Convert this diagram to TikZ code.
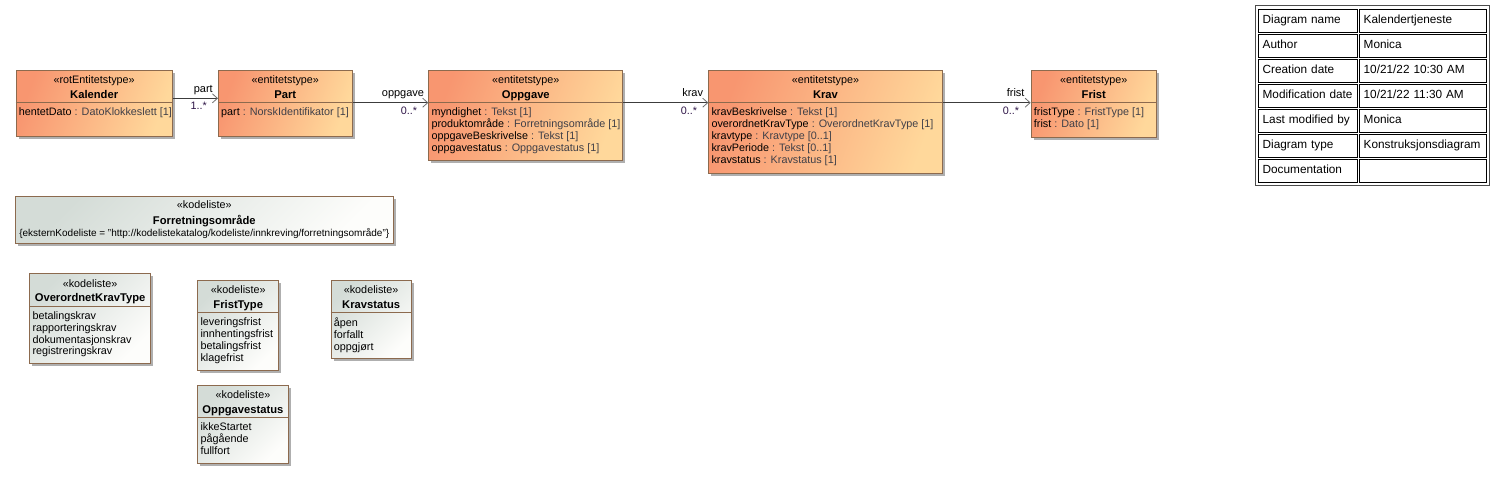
\documentclass[tikz,border=0pt]{standalone}
\usepackage{fontspec}
\setmainfont{Liberation Sans}
\usetikzlibrary{arrows.meta,calc}
\definecolor{brd}{RGB}{140,106,78}
\definecolor{ent1}{RGB}{248,150,112}
\definecolor{ent2}{RGB}{255,216,155}
\definecolor{kod1}{RGB}{212,220,215}
\definecolor{kod2}{RGB}{253,253,251}
\definecolor{typec}{RGB}{64,64,72}
\definecolor{linec}{RGB}{60,60,60}
\definecolor{arrc}{RGB}{110,110,110}
\definecolor{multc}{RGB}{45,20,70}
\definecolor{shad}{RGB}{175,175,175}
\newcommand{\ty}[1]{{\color{typec}#1}}
\newcommand{\tightlines}{\lineskiplimit=-20pt\relax\lineskip=0pt\relax}
\tikzset{
  ent/.style={draw=brd, line width=0.9pt, left color=ent1, right color=ent2, shading angle=70, inner sep=0},
  kod/.style={draw=brd, line width=0.9pt, left color=kod1, right color=kod2, shading angle=45, inner sep=0},
  stereo/.style={font=\fontsize{10.8}{12}\selectfont, inner sep=0, anchor=base},
  title/.style={font=\fontsize{11.2}{12}\selectfont\bfseries, inner sep=0, anchor=base},
  attr/.style={font=\fontsize{10.8}{11.9}\selectfont\tightlines, inner sep=0, anchor=north west, align=left},
  divl/.style={draw=brd, line width=0.9pt},
  conn/.style={draw=linec, line width=0.8pt, -{Straight Barb[length=5pt,width=9pt,line width=0.8pt,color=arrc]}},
  role/.style={font=\fontsize{11}{12}\selectfont, inner sep=0, anchor=base east},
  mult/.style={font=\fontsize{10.8}{12}\selectfont, inner sep=0, anchor=base east, text=multc},
  cell/.style={draw=black, line width=0.7pt, inner xsep=4pt, inner ysep=0, minimum height=22.4pt, align=left, text height=8.6pt, text depth=2.6pt, font=\fontsize{11.8}{14}\selectfont, anchor=north west},
}
% #1 name, #2 style, #3 x, #4 y, #5 w, #6 h, #7 stereotype, #8 title, #9 attributes
\newcommand{\classbox}[9]{%
  \fill[shad] (#3+3,#4+3) rectangle (#3+#5+3,#4+#6+3);
  \node[#2, minimum width=#5pt, minimum height=#6pt, anchor=north west] (#1) at (#3,#4) {};
  \node[stereo] at ([yshift=-13.8pt]#1.north) {«#7»};
  \node[title] at ([yshift=-28pt]#1.north) {#8};
  \draw[divl] ([yshift=-32.7pt]#1.north west) -- ([yshift=-32.7pt]#1.north east);
  \node[attr] at ([xshift=3pt,yshift=-37.4pt]#1.north west) {\strut#9};
}
\begin{document}
\begin{tikzpicture}[x=1pt,y=-1pt]
\useasboundingbox (0,0) rectangle (1506,488);
% entity classes
\classbox{kal}{ent}{15.7}{70}{156}{66}{rotEntitetstype}{Kalender}{hentetDato \ty{: DatoKlokkeslett [1]}}
\classbox{part}{ent}{218}{70}{133.7}{66}{entitetstype}{Part}{part \ty{: NorskIdentifikator [1]}}
\classbox{opp}{ent}{428.3}{70}{194}{90}{entitetstype}{Oppgave}{myndighet \ty{: Tekst [1]}\\produktområde \ty{: Forretningsområde [1]}\\oppgaveBeskrivelse \ty{: Tekst [1]}\\oppgavestatus \ty{: Oppgavestatus [1]}}
\classbox{krav}{ent}{708.3}{70}{233.4}{102.7}{entitetstype}{Krav}{kravBeskrivelse \ty{: Tekst [1]}\\overordnetKravType \ty{: OverordnetKravType [1]}\\kravtype \ty{: Kravtype [0..1]}\\kravPeriode \ty{: Tekst [0..1]}\\kravstatus \ty{: Kravstatus [1]}}
\classbox{frist}{ent}{1030.7}{70}{125.3}{66.7}{entitetstype}{Frist}{fristType \ty{: FristType [1]}\\frist \ty{: Dato [1]}}
% code lists
\fill[shad] (18,199) rectangle (395.7,246.3);
\node[kod, minimum width=377.7pt, minimum height=47.3pt, anchor=north west] (fo) at (15,196) {};
\node[stereo] at ([yshift=-12.8pt]fo.north) {«kodeliste»};
\node[title] at ([yshift=-28pt]fo.north) {Forretningsområde};
\node[stereo, font=\fontsize{10}{12}\selectfont] at ([yshift=-40.5pt]fo.north) {\{eksternKodeliste = "http://kodelistekatalog/kodeliste/innkreving/forretningsområde"\}};
\classbox{okt}{kod}{29.3}{273.3}{120.7}{90}{kodeliste}{OverordnetKravType}{betalingskrav\\rapporteringskrav\\dokumentasjonskrav\\registreringskrav}
\classbox{ft}{kod}{197.3}{280}{81}{90}{kodeliste}{FristType}{leveringsfrist\\innhentingsfrist\\betalingsfrist\\klagefrist}
\classbox{ks}{kod}{330.7}{280}{80}{78.3}{kodeliste}{Kravstatus}{åpen\\forfallt\\oppgjørt}
\classbox{os}{kod}{197.3}{385}{90.4}{78.3}{kodeliste}{Oppgavestatus}{ikkeStartet\\pågående\\fullfort}
% connectors
\coordinate (c1) at ([yshift=-28.3pt]kal.north east);
\draw[conn] (c1) -- (c1 -| part.west);
\node[role] at ($(c1 -| part.west)+(-5,-6)$) {part};
\node[mult] at ($(c1 -| part.west)+(-11,11.6)$) {1..*};
\coordinate (c2) at ([yshift=-32.7pt]part.north east);
\draw[conn] (c2) -- (c2 -| opp.west);
\node[role] at ($(c2 -| opp.west)+(-4,-6)$) {oppgave};
\node[mult] at ($(c2 -| opp.west)+(-11,11.6)$) {0..*};
\coordinate (c3) at ([yshift=-32.7pt]opp.north east);
\draw[conn] (c3) -- (c3 -| krav.west);
\node[role] at ($(c3 -| krav.west)+(-5,-6)$) {krav};
\node[mult] at ($(c3 -| krav.west)+(-11,11.6)$) {0..*};
\coordinate (c4) at ([yshift=-32.7pt]krav.north east);
\draw[conn] (c4) -- (c4 -| frist.west);
\node[role] at ($(c4 -| frist.west)+(-6,-6)$) {frist};
\node[mult] at ($(c4 -| frist.west)+(-11.5,11.6)$) {0..*};
% diagram info table
\node[draw=black!70, line width=0.9pt, minimum width=234.6pt, minimum height=180pt, anchor=north west, inner sep=0] (tbl) at (1254.7,5.3) {};
\foreach \i/\a/\b in {0/{Diagram name}/{Kalendertjeneste}, 1/{Author}/{Monica}, 2/{Creation date}/{10/21/22 10:30 AM}, 3/{Modification date}/{10/21/22 11:30 AM}, 4/{Last modified by}/{Monica}, 5/{Diagram type}/{Konstruksjonsdiagram}, 6/{Documentation}/{}} {
  \node[cell, minimum width=98.4pt, text width=90.4pt] (tl\i) at (1258.3,9.3+25*\i) {\a};
  \node[cell, minimum width=126.4pt, text width=118.4pt] (tr\i) at (1359.3,9.3+25*\i) {\b};
}
\end{tikzpicture}
\end{document}
